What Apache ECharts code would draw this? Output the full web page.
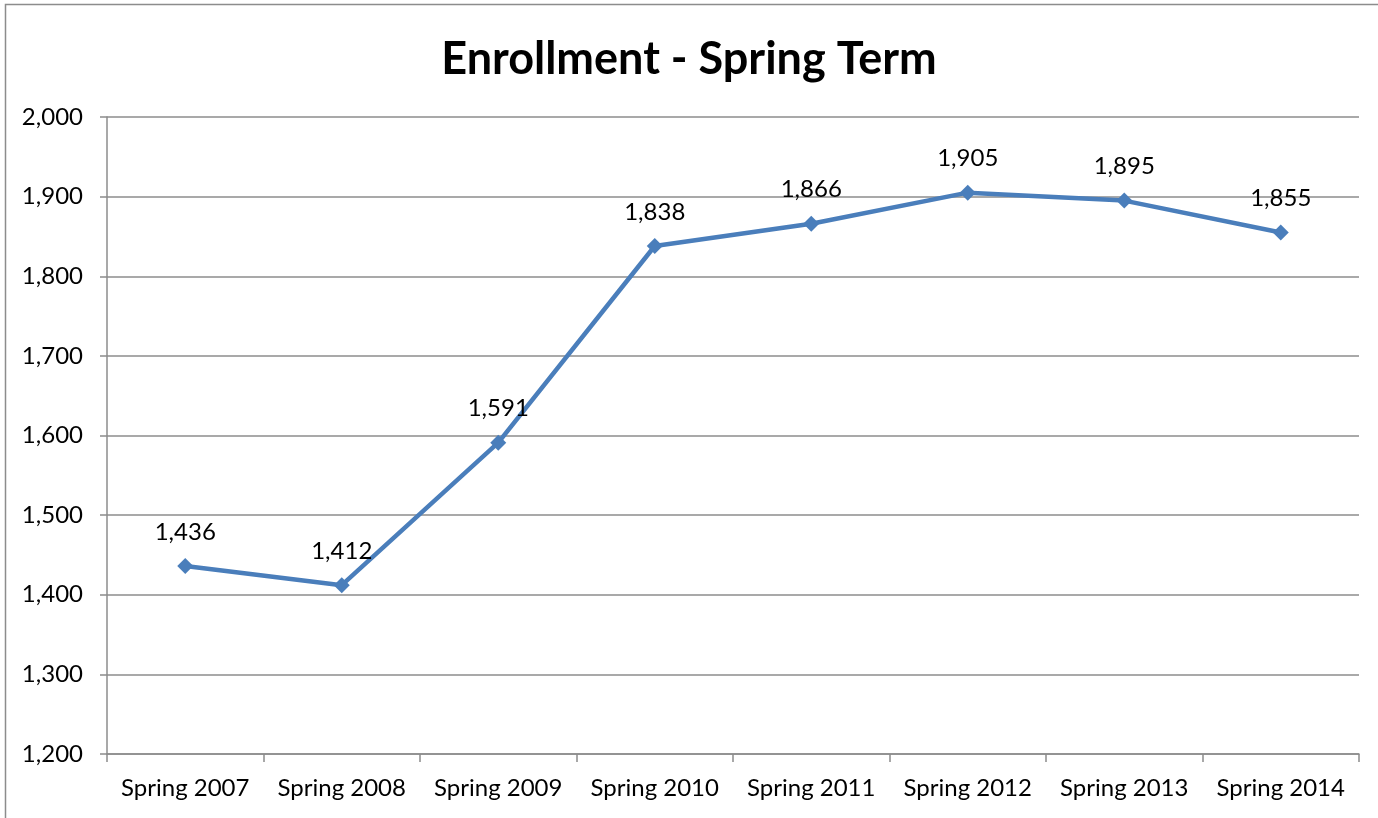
<!DOCTYPE html>
<html><head><meta charset="utf-8">
<script src="https://cdn.jsdelivr.net/npm/echarts@6/dist/echarts.min.js"></script>
<style>html,body{margin:0;padding:0;background:#fff}#c{width:1378px;height:818px}</style>
</head><body><div id="c"></div>
<script>
const categories = ['Spring 2007','Spring 2008','Spring 2009','Spring 2010','Spring 2011','Spring 2012','Spring 2013','Spring 2014'];
const enrollment = [1436, 1412, 1591, 1838, 1866, 1905, 1895, 1855];
const titleText = 'Enrollment - Spring Term';
const FONT = 'Lato, "Open Sans", sans-serif';
const chart = echarts.init(document.getElementById('c'), null, {renderer:'canvas'});
chart.setOption({
  animation:false,
  backgroundColor:'#fff',
  graphic:[{type:'rect',shape:{x:5.5,y:4.5,width:1400,height:900},style:{fill:'none',stroke:'#8c8c8c',lineWidth:1.5},silent:true}],
  title:{text:titleText,left:'center',top:32,textStyle:{fontFamily:FONT,fontWeight:'bold',fontSize:45,color:'#000'}},
  grid:{left:107,right:19,top:117,bottom:64,containLabel:false},
  xAxis:{type:'category',data:categories,boundaryGap:true,
    axisLine:{lineStyle:{color:'#8c8c8c',width:1.5}},
    axisTick:{show:true,length:8,interval:0,lineStyle:{color:'#8c8c8c',width:1.5}},
    axisLabel:{interval:0,fontFamily:FONT,fontSize:24,color:'#000',margin:22}},
  yAxis:{type:'value',min:1200,max:2000,interval:100,
    axisLine:{show:true,lineStyle:{color:'#8c8c8c',width:1.5}},
    axisTick:{show:true,length:7,lineStyle:{color:'#8c8c8c',width:1.5}},
    splitLine:{lineStyle:{color:'#8c8c8c',width:1.5}},
    axisLabel:{fontFamily:FONT,fontSize:24,color:'#000',margin:24,
      formatter:v=>v.toLocaleString('en-US')}},
  series:[{type:'line',data:enrollment,symbol:'diamond',symbolSize:16,
    lineStyle:{color:'#4a7ebb',width:4.5},itemStyle:{color:'#4a7ebb'},
    label:{show:true,position:'top',distance:14,fontFamily:FONT,fontSize:24,color:'#000',
      formatter:p=>p.value.toLocaleString('en-US')}}]
});
</script></body></html>
